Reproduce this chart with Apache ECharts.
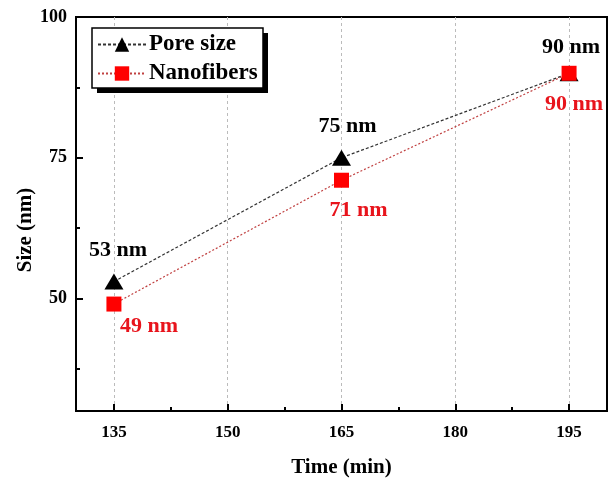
<!DOCTYPE html>
<html>
<head>
<meta charset="utf-8">
<script src="https://cdn.jsdelivr.net/npm/echarts@6/dist/echarts.min.js"></script>
<style>html,body{margin:0;padding:0;background:#fff;}#c{width:613px;height:481px;}</style>
</head>
<body>
<div id="c"></div>
<script>
const times = [135, 165, 195];
const poreSize = [53, 75, 90];
const nanofibers = [49, 71, 90];
const xMajorTicks = [135, 150, 165, 180, 195];
const xMinorTicks = [142.5, 157.5, 172.5, 187.5];
const yMajorTicks = [50, 75, 100];
const yMinorTicks = [37.5, 62.5, 87.5];
const seriesNames = ['Pore size', 'Nanofibers'];

const poreLabelOffsets = [[4, -31], [6, -31], [2, -26]];
const fiberLabelOffsets = [[35, 22], [17, 30], [5, 31]];

const FONT = 'Liberation Serif';
const chart = echarts.init(document.getElementById('c'), null, {renderer: 'canvas'});

function mk(vals, offsets) {
  return times.map((t, i) => ({
    value: [t, vals[i]],
    label: {offset: offsets[i]}
  }));
}

const baseAxis = {type: 'value', min: 130, max: 200};
chart.setOption({
  animation: false,
  backgroundColor: '#fff',
  grid: {left: 76, right: 6, top: 17, bottom: 70, outerBoundsMode: 'none', containLabel: false,
    show: true, borderColor: '#000', borderWidth: 2, backgroundColor: 'transparent'},
  graphic: [
    {type: 'rect', z: 3, shape: {x: 97, y: 33, width: 171, height: 60}, style: {fill: '#000'}},
    {type: 'rect', z: 3, shape: {x: 92, y: 28, width: 171, height: 60}, style: {fill: '#fff', stroke: '#000', lineWidth: 1.5}}
  ],
  legend: {
    orient: 'vertical', left: 97, top: 33, z: 5,
    data: seriesNames,
    padding: 0, itemGap: 6, itemWidth: 48, itemHeight: 18,
    textStyle: {fontFamily: FONT, fontWeight: 'bold', fontSize: 23, lineHeight: 23, color: '#000', padding: [0, 0, 0, -2]}
  },
  xAxis: [
    Object.assign({}, baseAxis, {
      name: 'Time (min)', nameLocation: 'middle', nameGap: 46, nameMoveOverlap: false,
      nameTextStyle: {fontFamily: FONT, fontWeight: 'bold', fontSize: 21, color: '#000'},
      axisLine: {show: true, lineStyle: {color: '#000', width: 2}},
      axisTick: {show: true, inside: true, length: 7, lineStyle: {color: '#000', width: 2}, customValues: xMajorTicks},
      axisLabel: {fontFamily: FONT, fontWeight: 'bold', fontSize: 17, color: '#000', margin: 13, customValues: xMajorTicks},
      splitLine: {show: true, customValues: xMajorTicks, lineStyle: {color: '#bbb', type: [3, 3], width: 1}}
    }),
    Object.assign({}, baseAxis, {
      position: 'bottom', offset: 0,
      axisLine: {show: false},
      axisTick: {show: true, inside: true, length: 4, lineStyle: {color: '#000', width: 2}, customValues: xMinorTicks},
      axisLabel: {show: false},
      splitLine: {show: false}
    })
  ],
  yAxis: [
    {
      type: 'value', min: 30, max: 100,
      name: 'Size (nm)', nameLocation: 'middle', nameGap: 40, nameMoveOverlap: false,
      nameTextStyle: {fontFamily: FONT, fontWeight: 'bold', fontSize: 21, color: '#000', padding: [0, 32, 0, 0]},
      axisLine: {show: true, lineStyle: {color: '#000', width: 2}},
      axisTick: {show: true, inside: true, length: 7, lineStyle: {color: '#000', width: 2}, customValues: yMajorTicks},
      axisLabel: {fontFamily: FONT, fontWeight: 'bold', fontSize: 18, color: '#000', margin: 9, customValues: yMajorTicks},
      splitLine: {show: false}
    },
    {
      type: 'value', min: 30, max: 100, position: 'left', offset: 0,
      axisLine: {show: false},
      axisTick: {show: true, inside: true, length: 4, lineStyle: {color: '#000', width: 2}, customValues: yMinorTicks},
      axisLabel: {show: false},
      splitLine: {show: false}
    }
  ],
  series: [
    {
      name: seriesNames[0], type: 'line', xAxisIndex: 0, yAxisIndex: 0,
      data: mk(poreSize, poreLabelOffsets),
      symbol: 'triangle', symbolSize: [19, 16],
      itemStyle: {color: '#000'},
      lineStyle: {color: '#333', width: 1.2, type: [3, 2]},
      label: {show: true, position: 'inside', fontFamily: FONT, fontWeight: 'bold', fontSize: 22, color: '#000',
        formatter: p => p.value[1] + ' nm'}
    },
    {
      name: seriesNames[1], type: 'line', xAxisIndex: 0, yAxisIndex: 0,
      data: mk(nanofibers, fiberLabelOffsets),
      symbol: 'rect', symbolSize: 15,
      itemStyle: {color: '#f00'},
      lineStyle: {color: '#c04040', width: 1.2, type: [2, 2]},
      label: {show: true, position: 'inside', fontFamily: FONT, fontWeight: 'bold', fontSize: 22, color: '#e8141c',
        formatter: p => p.value[1] + ' nm'}
    }
  ]
});
</script>
</body>
</html>
